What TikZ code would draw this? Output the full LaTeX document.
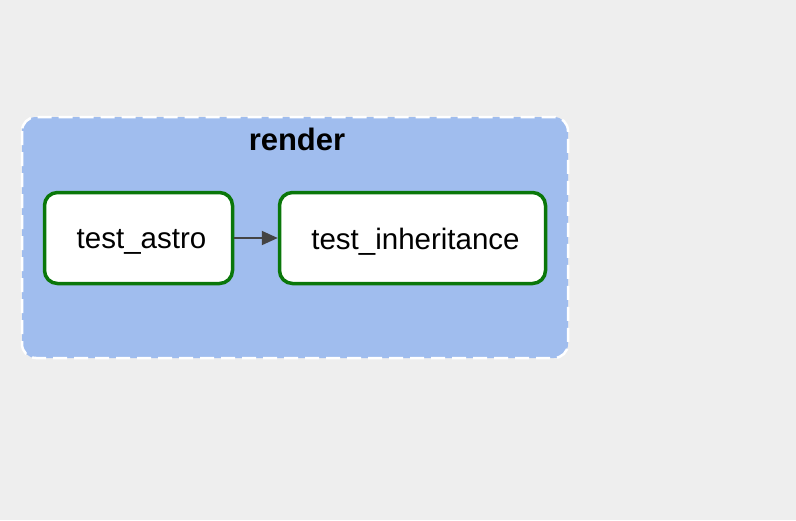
\documentclass[tikz,border=0pt]{standalone}
\usepackage{fontspec}
\setmainfont{Liberation Sans}
\usetikzlibrary{arrows.meta}
\definecolor{bgc}{HTML}{EEEEEE}
\definecolor{clusterc}{HTML}{A0BDEE}
\definecolor{greenc}{HTML}{0A770A}
\definecolor{edgec}{HTML}{444444}
\tikzset{
  task/.style={draw=greenc, line width=3.5pt, fill=white, rounded corners=13pt, minimum height=91pt, inner sep=0pt},
  tasklabel/.style={font=\fontsize{29.5}{34}\selectfont, inner sep=0pt},
  conn/.style={draw=edgec, line width=2pt, -{Triangle[length=16pt,width=14pt]}}
}
\begin{document}
\begin{tikzpicture}[x=1pt,y=-1pt]
\fill[bgc] (0,0) rectangle (796,520);
\useasboundingbox (0,0) rectangle (796,520);
\draw[fill=clusterc, draw=white, dash pattern=on 14pt off 7pt, line width=2.5pt, rounded corners=14pt] (22,117) rectangle (568,358);
\node[font=\bfseries\fontsize{31}{36}\selectfont] (lbl) at (297,139) {render};
\node[task, minimum width=188pt] (a) at (138.5,238) {};
\node[task, minimum width=266pt] (b) at (412.5,238) {};
\node[tasklabel] (ta) at ([xshift=3pt,yshift=-4pt]a.center) {test\_astro};
\node[tasklabel] (tb) at ([xshift=3pt,yshift=-4pt]b.center) {test\_inheritance};
\draw[conn] (a) -- (b);
\end{tikzpicture}
\end{document}
